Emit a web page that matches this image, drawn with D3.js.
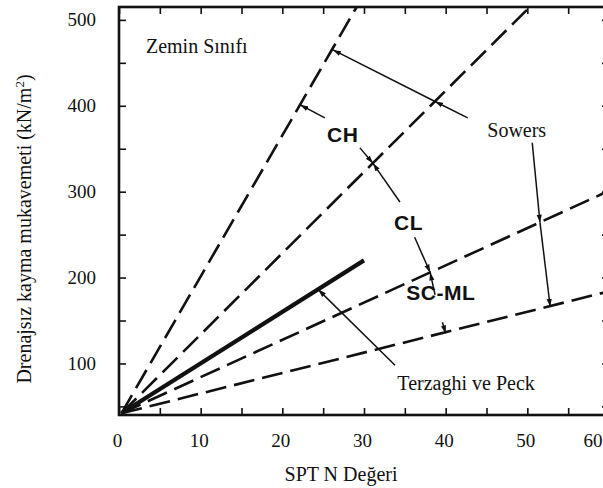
<!DOCTYPE html>
<html>
<head>
<meta charset="utf-8">
<script src="https://cdn.jsdelivr.net/npm/d3@7"></script>
<style>
  html, body { margin: 0; padding: 0; background: #fff; }
  svg { display: block; }
</style>
</head>
<body>
<script>
// ---- axis ticks ----
const nTicks = d3.range(0, 61, 5);
const nLabels = [0, 10, 20, 30, 40, 50, 60];
const cuTicks = d3.range(50, 501, 50);
const cuLabels = [100, 200, 300, 400, 500];

// ---- Sowers class boundaries (SPT N, cu kN/m2) ----
const boundaryStartN  = [0.3, 0.3, 0.3, 0.3];
const boundaryStartCu = [42, 42, 42, 42];
const boundaryEndN    = [29.1, 50.3, 60, 60];
const boundaryEndCu   = [515, 515, 301, 184];

// ---- Terzaghi ve Peck ----
const terzaghiN  = [0.3, 30];
const terzaghiCu = [42, 220];

// ---- soil class labels ----
const classLabels  = ["CH", "CL", "SC-ML"];
const classLabelN  = [27.4, 35.45, 39.4];
const classLabelCu = [358, 255.5, 174];

// ---- leader lines, arrowhead at the second point ----
const pointerFromN  = [25.2, 29.5, 34.4, 36.2, 38.7, 39.6, 42.7, 38.7, 50.6, 51.55, 33.8];
const pointerFromCu = [386, 351, 288, 247, 180, 148, 386, 405, 357, 264, 98];
const pointerToN    = [22.2, 31.1, 31.1, 38.1, 38.1, 40.0, 38.7, 26.2, 51.55, 52.8, 24.4];
const pointerToCu   = [401, 333, 333, 206, 206, 135, 405, 465, 264, 166, 186];

// ---- free text ----
const notes  = ["Zemin Sınıfı", "Sowers", "Terzaghi ve Peck"];
const noteN  = [3.3, 48.7, 42.5];
const noteCu = [462, 364, 69];
const noteAnchor = ["start", "middle", "middle"];

const W = 603, H = 488;
const plotLeft = 119, plotRight = 609, plotTop = 7, plotBottom = 415;
const ink = "#111";

const x = d3.scaleLinear().domain([0, 60]).range([plotLeft, plotRight]);
const y = d3.scaleLinear().domain([40, 515]).range([plotBottom, plotTop]);

const svg = d3.select("body").append("svg")
  .attr("width", W).attr("height", H)
  .style("font-family", "'Liberation Serif', 'Times New Roman', serif");

const defs = svg.append("defs");
defs.append("clipPath").attr("id", "plot")
  .append("rect").attr("x", plotLeft).attr("y", plotTop)
  .attr("width", plotRight - plotLeft).attr("height", plotBottom - plotTop);

const marker = defs.append("marker")
  .attr("id", "arrow").attr("markerUnits", "userSpaceOnUse")
  .attr("viewBox", "0 -3 8 6").attr("refX", 8).attr("refY", 0)
  .attr("markerWidth", 8).attr("markerHeight", 6).attr("orient", "auto");
marker.append("path").attr("d", "M0,-2.6L8,0L0,2.6Z").attr("fill", ink);

// ---- axes ----
function styleAxis(g) {
  g.select(".domain").remove();
  g.selectAll(".tick line").attr("stroke", ink).attr("stroke-width", 1.6);
  g.selectAll(".tick text").attr("fill", ink)
    .style("font-family", "'Liberation Serif', 'Times New Roman', serif")
    .style("font-size", "19px");
}

svg.append("g").attr("transform", `translate(0,${plotBottom})`)
  .call(d3.axisBottom(x).tickValues(nTicks).tickSizeInner(-7).tickSizeOuter(0)
    .tickPadding(18.5).tickFormat(d => nLabels.includes(d) ? d : ""))
  .call(styleAxis)
  .call(g => g.selectAll(".tick text").attr("dx", -2))
  // the last label sits at the window edge: keep it inside
  .call(g => g.selectAll(".tick text").filter(d => d === 60)
    .attr("text-anchor", "end").attr("dx", -7));

svg.append("g").attr("transform", `translate(0,${plotTop})`)
  .call(d3.axisTop(x).tickValues(nTicks).tickSizeInner(-7).tickSizeOuter(0).tickFormat(""))
  .call(styleAxis);

svg.append("g").attr("transform", `translate(${plotLeft},0)`)
  .call(d3.axisLeft(y).tickValues(cuTicks).tickSizeInner(-7).tickSizeOuter(0)
    .tickPadding(23).tickFormat(d => cuLabels.includes(d) ? d : ""))
  .call(styleAxis);

svg.append("g").attr("transform", `translate(${plotRight},0)`)
  .call(d3.axisRight(y).tickValues(cuTicks).tickSizeInner(-7).tickSizeOuter(0).tickFormat(""))
  .call(styleAxis);

// frame
svg.append("rect").attr("x", plotLeft).attr("y", plotTop)
  .attr("width", plotRight - plotLeft).attr("height", plotBottom - plotTop)
  .attr("fill", "none").attr("stroke", ink).attr("stroke-width", 2.6);

// ---- data lines ----
const plot = svg.append("g").attr("clip-path", "url(#plot)");
const line = d3.line().x(d => x(d[0])).y(d => y(d[1]));

plot.selectAll("path.boundary")
  .data(boundaryEndN.map((n, i) => [[boundaryStartN[i], boundaryStartCu[i]], [n, boundaryEndCu[i]]]))
  .join("path").attr("class", "boundary")
  .attr("d", line).attr("fill", "none").attr("stroke", ink)
  .attr("stroke-width", 2.6).attr("stroke-dasharray", "21,8");

plot.append("path")
  .datum(terzaghiN.map((n, i) => [n, terzaghiCu[i]]))
  .attr("d", line).attr("fill", "none").attr("stroke", ink)
  .attr("stroke-width", 4.2);

// ---- leader lines ----
svg.append("g").selectAll("line")
  .data(pointerFromN.map((n, i) => i))
  .join("line")
  .attr("x1", i => x(pointerFromN[i])).attr("y1", i => y(pointerFromCu[i]))
  .attr("x2", i => x(pointerToN[i])).attr("y2", i => y(pointerToCu[i]))
  .attr("stroke", ink).attr("stroke-width", 1.5)
  .attr("marker-end", "url(#arrow)");

// ---- labels ----
svg.append("g").selectAll("text")
  .data(classLabels).join("text")
  .attr("x", (d, i) => x(classLabelN[i])).attr("y", (d, i) => y(classLabelCu[i]))
  .attr("text-anchor", "middle")
  .style("font-family", "'Liberation Sans', Arial, sans-serif")
  .style("font-weight", "bold").style("font-size", "21px")
  .style("letter-spacing", "0.5px")
  .attr("fill", ink).text(d => d);

svg.append("g").selectAll("text")
  .data(notes).join("text")
  .attr("x", (d, i) => x(noteN[i])).attr("y", (d, i) => y(noteCu[i]))
  .attr("text-anchor", (d, i) => noteAnchor[i])
  .style("font-size", "20px").attr("fill", ink).text(d => d);

// axis titles
svg.append("text").attr("x", 341).attr("y", 481)
  .attr("text-anchor", "middle").style("font-size", "20px").attr("fill", ink)
  .text("SPT N Değeri");

const yt = svg.append("text")
  .attr("transform", "translate(31,229) rotate(-90)")
  .attr("text-anchor", "middle").style("font-size", "20px").attr("fill", ink);
yt.append("tspan").text("Drenajsız kayma mukavemeti (kN/m");
yt.append("tspan").attr("dy", -7).style("font-size", "13px").text("2");
yt.append("tspan").attr("dy", 7).text(")");
</script>
</body>
</html>
